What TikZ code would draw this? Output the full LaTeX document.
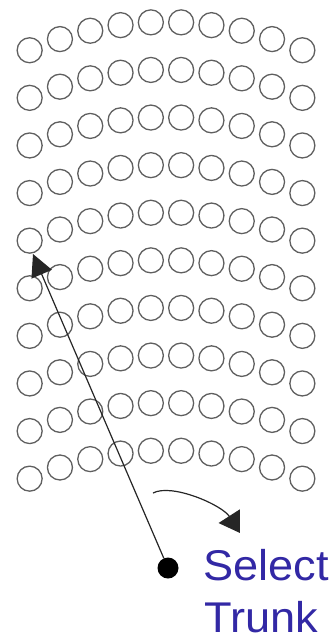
\documentclass[tikz,border=0pt]{standalone}
\usepackage{fontspec}
\setmainfont{Liberation Sans}
\usetikzlibrary{arrows.meta}
\definecolor{seatgray}{RGB}{95,95,95}
\definecolor{labelblue}{RGB}{50,40,165}
\begin{document}
\begin{tikzpicture}[x=1pt,y=-1pt,
  seat/.style={circle,draw=seatgray,line width=1.3pt,minimum size=25pt,inner sep=0pt},
  bigdot/.style={circle,fill=black,minimum size=21pt,inner sep=0pt},
  pointer/.style={draw=black!85,line width=1.2pt},
  label/.style={anchor=base west,text=labelblue,inner sep=0pt,xscale=1.05,font=\fontsize{43}{50}\selectfont}]
\useasboundingbox[fill=white] (0,0) rectangle (333,640);
\foreach \r in {0,...,9}{
  \foreach \i in {0,...,9}{
    \pgfmathsetmacro\du{(\i-4.5)*3.03}
    \pgfmathsetmacro\xx{166+10*\du}
    \pgfmathsetmacro\yy{22+47.6*\r+0.152*\du*\du}
    \node[seat] (s-\r-\i) at (\xx,\yy) {};
  }}
\node[bigdot] (dot) at (168,568) {};
\coordinate (tip) at (33,254);
\draw[pointer,-{Triangle[length=22pt,width=22pt]}] (dot) -- (tip);
\coordinate (cs) at (153,493);
\coordinate (ce) at (240,533);
\draw[pointer,-{Triangle[length=20pt,width=25pt]}] (cs) .. controls (172,483) and (222,505) .. (ce);
\node[label] (sel) at (203,580) {Select};
\node[label] (trk) at (204,632) {Trunk};
\end{tikzpicture}
\end{document}
